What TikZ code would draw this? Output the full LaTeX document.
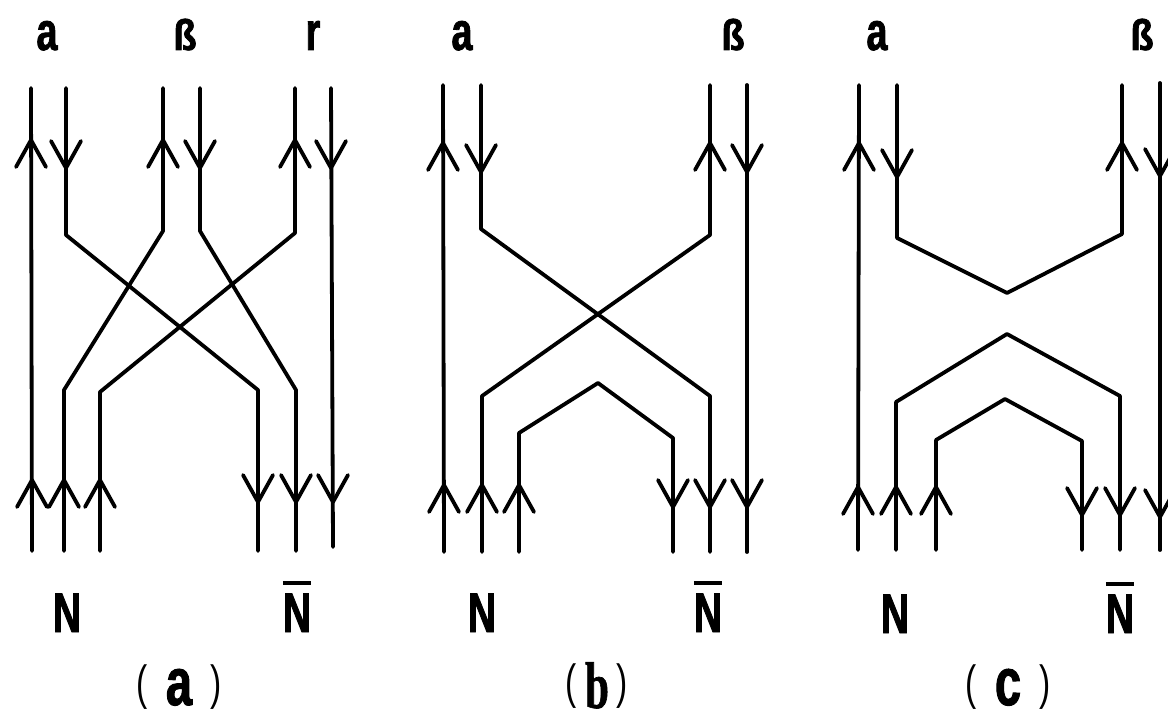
\documentclass[tikz,border=0pt]{standalone}
\usepackage{fontspec}
\newfontfamily\lf[FakeStretch=0.7]{Liberation Sans}
\newfontfamily\lfb[FakeStretch=0.7,FakeBold=1.5]{Liberation Sans Bold}
\newfontfamily\lfs[FakeStretch=0.65,FakeBold=1]{Liberation Serif Bold}
\newcommand\toplab[1]{{\lfb\fontsize{54}{54}\selectfont #1}}
\newcommand\topss{{\lfb\fontsize{54}{54}\selectfont\scalebox{1}[0.8]{ß}}}
\newcommand\nlab{{\lfb\fontsize{56}{56}\selectfont N}}
\newcommand\nbarlab{{\lfb\fontsize{56}{56}\selectfont\vbox{\hrule height 4pt\kern 8pt\hbox{N}}}}
\newcommand\capt[1]{{\lf\fontsize{48}{48}\selectfont\raisebox{6pt}{(}\hspace{18pt}{\lfb\fontsize{67}{67}\selectfont #1}\hspace{18pt}\raisebox{6pt}{)}}}
\newcommand\captb{{\lf\fontsize{48}{48}\selectfont\raisebox{10pt}{(}\hspace{8pt}{\lfs\fontsize{66}{66}\selectfont b}\hspace{8pt}\raisebox{10pt}{)}}}
\begin{document}
\begin{tikzpicture}[x=1pt,y=-1pt,
  ln/.style={line width=3.8pt,line join=round,line cap=round},
  lab/.style={anchor=base,inner sep=0pt,outer sep=0pt},
  pics/upar/.style={code={\draw[ln] (-15,27) -- (0,0) -- (15,27);}},
  pics/dnar/.style={code={\draw[ln] (-15,-27) -- (0,0) -- (15,-27);}}]
\useasboundingbox[fill=white] (0,0) rectangle (1168,725);

% ---------- panel (a) ----------
\draw[ln] (31,88) -- (32,551);
\draw[ln] (66,88) -- (66,235) -- (258,390) -- (258,551);
\draw[ln] (163,88) -- (163,231) -- (64,390) -- (64,551);
\draw[ln] (200,88) -- (200,231) -- (296,390) -- (296,551);
\draw[ln] (295,88) -- (295,233) -- (100,392) -- (100,551);
\draw[ln] (331,88) -- (333,547);
\pic at (31,140) {upar};
\pic at (66,168) {dnar};
\pic at (163,140) {upar};
\pic at (200,168) {dnar};
\pic at (295,140) {upar};
\pic at (331,168) {dnar};
\pic at (32,480) {upar};
\pic at (64,480) {upar};
\pic at (100,480) {upar};
\pic at (258,502) {dnar};
\pic at (296,502) {dnar};
\pic at (333,502) {dnar};
\node[lab] (aa) at (47,50) {\toplab{a}};
\node[lab] (ab) at (185,50) {\topss};
\node[lab] (ar) at (313,50) {\toplab{r}};
\node[lab] (aN) at (67,632) {\nlab};
\node[lab] (aNb) at (297,632) {\nbarlab};
\node[lab] (acap) at (179,705) {\capt{a}};

% ---------- panel (b) ----------
\draw[ln] (443,85) -- (444,552);
\draw[ln] (481,85) -- (481,229) -- (710,396) -- (710,552);
\draw[ln] (710,85) -- (710,235) -- (482,396) -- (482,552);
\draw[ln] (747,85) -- (747,552);
\draw[ln] (519,552) -- (519,433) -- (598,383) -- (673,438) -- (673,552);
\pic at (443,143) {upar};
\pic at (481,172) {dnar};
\pic at (710,143) {upar};
\pic at (747,172) {dnar};
\pic at (444,485) {upar};
\pic at (482,485) {upar};
\pic at (519,485) {upar};
\pic at (673,507) {dnar};
\pic at (710,507) {dnar};
\pic at (747,507) {dnar};
\node[lab] (ba) at (462,50) {\toplab{a}};
\node[lab] (bb) at (733,50) {\topss};
\node[lab] (bN) at (482,632) {\nlab};
\node[lab] (bNb) at (708,632) {\nbarlab};
\node[lab] (bcap) at (597,708) {\captb};

% ---------- panel (c) ----------
\draw[ln] (859,85) -- (858,550);
\draw[ln] (897,85) -- (897,238) -- (1007,293) -- (1122,234) -- (1122,85);
\draw[ln] (896,550) -- (896,402) -- (1007,334) -- (1120,396) -- (1120,550);
\draw[ln] (936,550) -- (936,440) -- (1005,399) -- (1082,441) -- (1082,550);
\draw[ln] (1160,83) -- (1160,550);
\pic at (859,143) {upar};
\pic at (897,177) {dnar};
\pic at (1122,143) {upar};
\pic at (1160,176) {dnar};
\pic at (858,487) {upar};
\pic at (896,487) {upar};
\pic at (936,487) {upar};
\pic at (1082,515) {dnar};
\pic at (1120,515) {dnar};
\pic at (1160,517) {dnar};
\node[lab] (ca) at (877,50) {\toplab{a}};
\node[lab] (cb) at (1142,50) {\topss};
\node[lab] (cN) at (895,633) {\nlab};
\node[lab] (cNb) at (1120,633) {\nbarlab};
\node[lab] (ccap) at (1008,705) {\capt{c}};
\end{tikzpicture}
\end{document}
